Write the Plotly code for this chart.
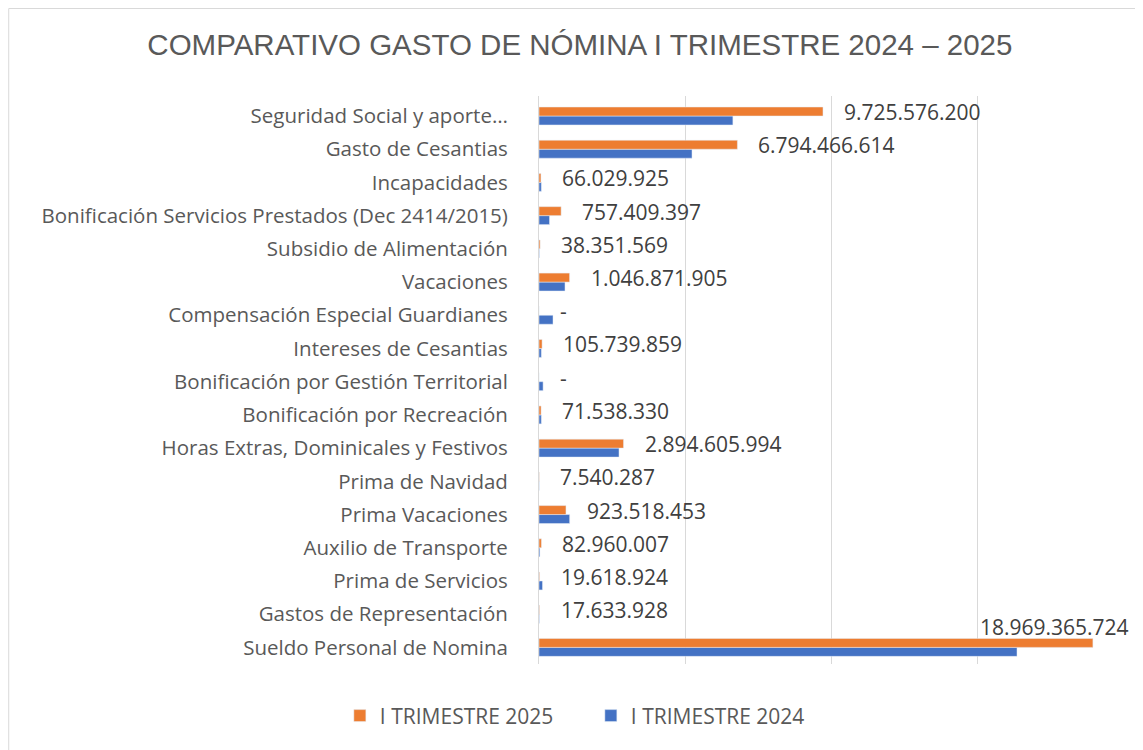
import plotly.graph_objects as go

# -------------------------------
# Data (bottom to top, as plotted)
# -------------------------------
categorias = [
    "Sueldo Personal de Nomina",
    "Gastos de Representación",
    "Prima de Servicios",
    "Auxilio de Transporte",
    "Prima Vacaciones",
    "Prima de Navidad",
    "Horas Extras, Dominicales y Festivos",
    "Bonificación por Recreación",
    "Bonificación por Gestión Territorial",
    "Intereses de Cesantias",
    "Compensación Especial Guardianes",
    "Vacaciones",
    "Subsidio de Alimentación",
    "Bonificación Servicios Prestados (Dec 2414/2015)",
    "Incapacidades",
    "Gasto de Cesantias",
    "Seguridad Social y aporte…",
]

trimestre_2025 = [
    18969365724, 17633928, 19618924, 82960007, 923518453, 7540287,
    2894605994, 71538330, 0, 105739859, 0, 1046871905, 38351569,
    757409397, 66029925, 6794466614, 9725576200,
]

# 2024 values (no labels in the source)
trimestre_2024 = [
    16370000000, 10000000, 120000000, 30000000, 1050000000, 5000000,
    2740000000, 80000000, 140000000, 80000000, 480000000, 890000000,
    10000000, 360000000, 80000000, 5240000000, 6640000000,
]

ORANGE = "#ED7D31"
BLUE = "#4472C4"
TEXT = "#595959"
FONT = "Open Sans"


def fmt(v):
    return "-" if v == 0 else f"{v:,}".replace(",", ".")


fig = go.Figure()
fig.add_trace(go.Bar(
    y=categorias, x=trimestre_2024, orientation="h",
    name="I TRIMESTRE 2024", marker_color=BLUE, legendrank=2,
    hoverinfo="x+name",
))
fig.add_trace(go.Bar(
    y=categorias, x=trimestre_2025, orientation="h",
    name="I TRIMESTRE 2025", marker_color=ORANGE, legendrank=1,
    hoverinfo="x+name",
))

# data labels for the 2025 series
annotations = []
max_2025 = max(trimestre_2025)
for cat, v in zip(categorias, trimestre_2025):
    if v == max_2025:
        annotations.append(dict(
            x=v, y=cat, text=fmt(v), showarrow=False, xanchor="right",
            xshift=38, yshift=20, font=dict(size=21, color="#404040", family=FONT),
        ))
    else:
        annotations.append(dict(
            x=v, y=cat, text=fmt(v), showarrow=False, xanchor="left",
            xshift=19, yshift=4, font=dict(size=21, color="#404040", family=FONT),
        ))

fig.update_layout(
    width=1135, height=742,
    paper_bgcolor="white", plot_bgcolor="white",
    barmode="group", bargap=0.46, bargroupgap=0,
    margin=dict(l=531, r=20, t=88, b=86),
    title=dict(
        text="COMPARATIVO GASTO DE NÓMINA I TRIMESTRE 2024 – 2025",
        x=0.07, xref="paper", xanchor="center",
        y=1 - 37 / 742, yanchor="middle",
        font=dict(family="Liberation Sans", size=29.5, color=TEXT),
    ),
    xaxis=dict(
        range=[0, 20e9], dtick=5e9, showticklabels=False,
        showgrid=True, gridcolor="#D9D9D9", gridwidth=1,
        zeroline=False, fixedrange=True,
    ),
    yaxis=dict(
        showline=True, linecolor="#D9D9D9", linewidth=1,
        tickfont=dict(family=FONT, size=20.5, color=TEXT),
        ticklabelstandoff=26, showgrid=False,
    ),
    legend=dict(
        orientation="h", x=-0.341, xanchor="left",
        y=-0.0915, yanchor="middle",
        font=dict(family=FONT, size=21, color=TEXT),
        itemwidth=30, entrywidth=206, entrywidthmode="pixels",
    ),
    annotations=annotations,
    shapes=[
        dict(type="line", xref="paper", yref="paper",
             x0=-0.908, x1=1.2, y0=1.154, y1=1.154,
             line=dict(color="#D9D9D9", width=1)),
        dict(type="line", xref="paper", yref="paper",
             x0=-0.908, x1=-0.908, y0=1.154, y1=-0.3,
             line=dict(color="#D9D9D9", width=1)),
    ],
    showlegend=True,
)

fig.write_html("out.html")
